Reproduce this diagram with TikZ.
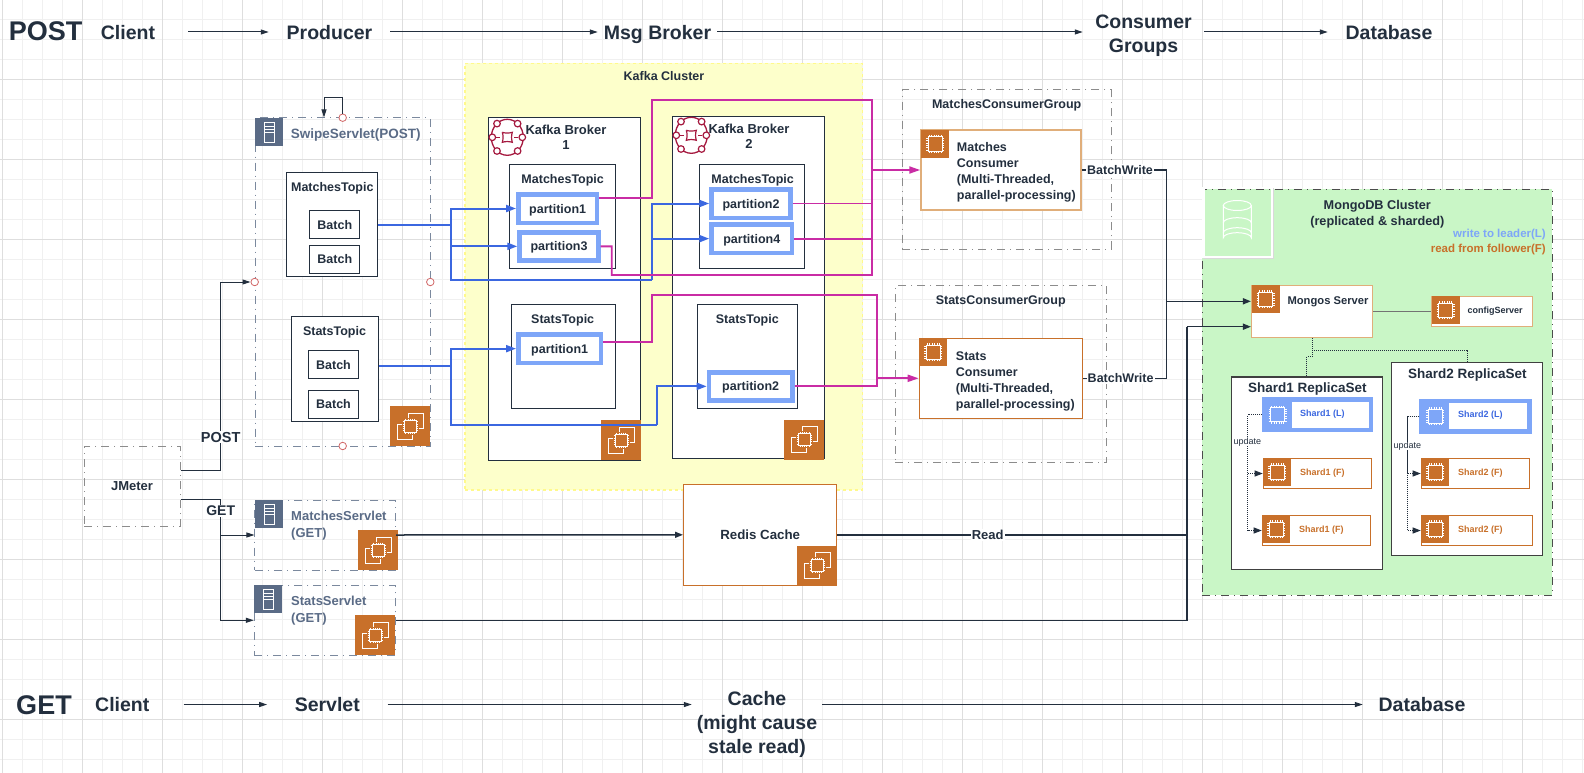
\documentclass[tikz,border=0pt]{standalone}
\usepackage{fontspec}
\setmainfont{Liberation Sans}
\usetikzlibrary{arrows.meta}

\definecolor{inkdark}{HTML}{232F3E}
\definecolor{awsorange}{HTML}{C8702A}
\definecolor{paleorange}{HTML}{E0AE7A}
\definecolor{leaderblue}{HTML}{7EA6F8}
\definecolor{slate}{HTML}{5A6B86}
\definecolor{linkblue}{HTML}{3B67E0}
\definecolor{linkpink}{HTML}{C92CA4}
\definecolor{kafkared}{HTML}{A5193F}
\definecolor{clusteryellow}{HTML}{FDFFCB}
\definecolor{clustergreen}{HTML}{C9F6C6}

\tikzset{
    pics/chipicon/.style={code={
        \fill[#1] (0,0) rectangle (28,28);
        \draw[white, line width=1pt] (7,7) rectangle (21,21);
        \foreach \t in {8,10.4,12.8,15.2,17.6,20} {
            \draw[white, line width=0.6pt] (\t,5) -- (\t,7) (\t,21) -- (\t,23) (5,\t) -- (7,\t) (21,\t) -- (23,\t);
        }
    }},
    pics/stackicon/.style={code={
        \fill[awsorange] (0,0) rectangle (40,40);
        \draw[white, line width=0.8pt] (18,7) rectangle (33,22);
        \draw[white, line width=0.8pt] (7,18) rectangle (22,33);
        \fill[awsorange] (11.5,11.5) rectangle (28.5,28.5);
        \draw[white, line width=1pt] (14,14) rectangle (26,26);
        \foreach \t in {15.5,18,20,22,24.5} {
            \draw[white, line width=0.6pt] (\t,12.5) -- (\t,14) (\t,26) -- (\t,27.5) (12.5,\t) -- (14,\t) (26,\t) -- (27.5,\t);
        }
    }},
    pics/servericon/.style={code={
        \fill[slate] (0,0) rectangle (28,28);
        \draw[white, line width=0.9pt] (9,4) rectangle (19.5,24);
        \draw[white, line width=0.7pt] (9,8) -- (19.5,8) (9,11) -- (19.5,11) (9,14.5) -- (19.5,14.5);
    }},
    pics/kafkaicon/.style={code={
        \draw[kafkared, line width=1.3pt] (0,0) ellipse (16 and 18);
        \foreach \sx/\sy in {-10.3/-13.7, 10.3/-13.7, -10.3/13.7, 10.3/13.7, -15/0, 15/0} {
            \draw[kafkared, line width=1.2pt, fill=white] (\sx,\sy) circle (3.3);
        }
        \draw[kafkared, line width=1.2pt, fill=white] (-5,-5) .. controls (-2,-4) and (2,-4) .. (5,-5) .. controls (4,-2) and (4,2) .. (5,5) .. controls (2,4) and (-2,4) .. (-5,5) .. controls (-4,2) and (-4,-2) .. (-5,-5);
        \draw[kafkared, line width=1pt] (-11,0) -- (-7,0) (7,0) -- (11,0);
    }},
}

\begin{document}
\begin{tikzpicture}[x=1pt, y=-1pt,
    >={Triangle[length=8pt,width=6pt]},
    every node/.style={text=inkdark, inner sep=0pt},
    wh/.style 2 args={minimum width=#1pt, minimum height=#2pt},
    % Background squares
    gridminor/.style={draw=black!6, line width=0.8pt},
    gridmajor/.style={draw=black!13, line width=0.8pt},
    % Boxes
    groupbox/.style={draw=black!45, line width=1pt, dash pattern=on 8pt off 5pt on 1pt off 5pt},
    servletbox/.style={groupbox, draw=slate!80},
    plainbox/.style={draw=inkdark, fill=white, line width=1pt},
    batchbox/.style={plainbox, wh={50}{28}, font=\fontsize{12.5}{15}\selectfont\bfseries},
    partbox/.style={draw=leaderblue, fill=white, line width=4.5pt, text height=11.7pt, text depth=2.7pt, font=\fontsize{12.5}{15}\selectfont\bfseries},
    hostbox/.style={draw=awsorange, fill=white, line width=1.2pt},
    palebox/.style={draw=paleorange, fill=white, line width=1.5pt},
    portdot/.style={circle, draw=red!70!black!60, fill=white, line width=0.8pt, minimum size=7.5pt},
    % Texts
    flowtext/.style={font=\fontsize{19.5}{24}\selectfont\bfseries, align=center},
    flowsingle/.style={flowtext, text height=18.8pt, text depth=4.5pt},
    titletext/.style={font=\fontsize{12.5}{15.5}\selectfont\bfseries, align=center, yshift=-1.5pt},
    hosttext/.style={anchor=west, align=left, font=\fontsize{12.5}{16}\selectfont\bfseries},
    servlettext/.style={anchor=west, align=left, text=slate, font=\fontsize{13}{17}\selectfont\bfseries},
    shardtext/.style={anchor=west, font=\fontsize{9}{11}\selectfont\bfseries},
    linklabel/.style={fill=white, inner sep=1pt, font=\fontsize{12.5}{15}\selectfont\bfseries},
    % Connectors
    flowlink/.style={draw=inkdark, line width=1pt, >={Triangle[length=8pt,width=5pt]}},
    darklink/.style={draw=inkdark, line width=1.5pt},
    bluelink/.style={draw=linkblue, line width=2pt, >={Triangle[length=10pt,width=7pt]}},
    pinklink/.style={draw=linkpink, line width=1.9pt, >={Triangle[length=11pt,width=7pt]}},
    dotlink/.style={draw=inkdark, line width=0.9pt, dash pattern=on 1pt off 1pt},
]
\useasboundingbox (0,0) rectangle (1584,773);
\fill[white] (0,0) rectangle (1584,773);

% 1. Background squares
\foreach \k in {0,...,79} {\draw[gridminor] (2.5+20*\k,0) -- (2.5+20*\k,773);}
\foreach \k in {0,...,38} {\draw[gridminor] (0,19.5+20*\k) -- (1584,19.5+20*\k);}
\foreach \k in {0,...,19} {\draw[gridmajor] (2.5+80*\k,0) -- (2.5+80*\k,773);}
\foreach \k in {0,...,8} {\draw[gridmajor] (0,79.5+80*\k) -- (1584,79.5+80*\k);}

% 2. The two flow rows
\node[font=\fontsize{27}{32}\selectfont\bfseries] (postTitle) at (45.7,31) {POST};
\node[flowsingle, wh={120}{30}] (postClient) at (128,32) {Client};
\node[flowsingle, wh={121}{30}] (postProducer) at (329.5,32) {Producer};
\node[flowsingle, wh={119}{30}] (postBroker) at (657.5,32) {Msg Broker};
\node[flowtext, wh={121}{50}] (postConsumer) at (1143.5,35.5) {Consumer\\Groups};
\node[flowsingle, wh={122}{30}] (postDatabase) at (1389,32) {Database};
\draw[flowlink, ->] (postClient) -- (postProducer);
\draw[flowlink, ->] (postProducer) -- (postBroker);
\draw[flowlink, ->] (postBroker.east) -- (postConsumer.west |- postBroker.east);
\draw[flowlink, ->] (postConsumer.east |- postDatabase.west) -- (postDatabase.west);

\node[font=\fontsize{27}{32}\selectfont\bfseries] (getTitle) at (44,705) {GET};
\node[flowsingle, wh={122}{30}] (getClient) at (122.3,704.5) {Client};
\node[flowsingle, wh={120}{30}] (getServlet) at (327.3,704.5) {Servlet};
\node[flowtext, wh={130}{72}] (getCache) at (757,724) {Cache\\(might cause\\stale read)};
\node[flowsingle, wh={118}{30}] (getDatabase) at (1422,704.5) {Database};
\draw[flowlink, ->] (getClient) -- (getServlet);
\draw[flowlink, ->] (getServlet.east) -- (getCache.west |- getServlet.east);
\draw[flowlink, ->] (getCache.east |- getDatabase.west) -- (getDatabase.west);

% 3. JMeter and the servlets
\node[groupbox, wh={96}{80}, font=\fontsize{13}{16}\selectfont\bfseries] (jmeter) at (132,486) {JMeter};

\node[servletbox, wh={174.7}{328}] (swipeServlet) at (342.7,282) {};
\pic at (255.3,118) {servericon};
\node[servlettext, font=\fontsize{13.5}{17}\selectfont\bfseries] (swipeTitle) at (290.7,135.5) {SwipeServlet(POST)};
\node[plainbox, wh={90.7}{104}] (swipeMatches) at (332.3,224.7) {};
\node[titletext] (swipeMatchesTitle) at (332.3,186.5) {MatchesTopic};
\node[plainbox, wh={87.4}{104.3}] (swipeStats) at (335,368.85) {};
\node[titletext] (swipeStatsTitle) at (334.5,330.5) {StatsTopic};
\foreach \name/\cx/\cy in {batchM1/334.8/224.7, batchM2/334.8/259.2, batchS1/333.5/364.7, batchS2/333.5/404.5} {
    \node[batchbox] (\name) at (\cx,\cy) {Batch};
}
\pic at (390,406) {stackicon};

\node[servletbox, wh={140.7}{70}] (matchesServlet) at (325.3,535) {};
\pic at (255,500) {servericon};
\node[servlettext] (matchesServletText) at (291,526) {MatchesServlet\\(GET)};
\pic at (358,530) {stackicon};

\node[servletbox, wh={141}{70}] (statsServlet) at (324.8,620.3) {};
\pic at (254.3,585.3) {servericon};
\node[servlettext] (statsServletText) at (291,611) {StatsServlet\\(GET)};
\pic at (355,615.3) {stackicon};

% 4. Kafka cluster
\node[draw=yellow!45, fill=clusteryellow, dashed, line width=1.5pt, wh={397.3}{426.7}] (kafkaCluster) at (663.7,276.7) {};
\node[titletext] (kafkaTitle) at (664,74.5) {Kafka Cluster};

\node[plainbox, wh={152.4}{342}] (broker1) at (564.5,289) {};
\pic at (507.3,137.3) {kafkaicon};
\node[titletext, font=\fontsize{13}{15.5}\selectfont\bfseries] (broker1Title) at (566,136) {Kafka Broker\\1};
\node[plainbox, wh={105.7}{104.4}] (b1Matches) at (562.2,216.5) {};
\node[titletext] (b1MatchesTitle) at (562.7,178.3) {MatchesTopic};
\node[partbox, wh={78.8}{28.5}] (b1Part1) at (557.7,208.5) {partition1};
\node[partbox, wh={78.9}{28.2}] (b1Part3) at (559,246.35) {partition3};
\node[plainbox, wh={104}{104.4}] (b1Stats) at (563,356.5) {};
\node[titletext] (b1StatsTitle) at (562.7,318.3) {StatsTopic};
\node[partbox, wh={82.8}{28.2}] (b1StatsPart) at (559.7,348.65) {partition1};
\pic at (601,420) {stackicon};

\node[plainbox, wh={152.3}{341.6}] (broker2) at (748.2,287.5) {};
\pic at (691.3,135.3) {kafkaicon};
\node[titletext, font=\fontsize{13}{15.5}\selectfont\bfseries] (broker2Title) at (749,135) {Kafka Broker\\2};
\node[plainbox, wh={105.4}{104.4}] (b2Matches) at (752,216.5) {};
\node[titletext] (b2MatchesTitle) at (752.7,178.3) {MatchesTopic};
\node[partbox, wh={78.9}{28.5}] (b2Part2) at (751,203.5) {partition2};
\node[partbox, wh={80.5}{28.2}] (b2Part4) at (751.8,238.65) {partition4};
\node[plainbox, wh={100.4}{104.4}] (b2Stats) at (747.5,356.5) {};
\node[titletext] (b2StatsTitle) at (747.3,318.3) {StatsTopic};
\node[partbox, wh={83.5}{28.2}] (b2StatsPart) at (750.7,386.35) {partition2};
\pic at (784.3,419.5) {stackicon};

% 5. Consumer groups
\node[groupbox, wh={209}{159.3}] (matchesGroup) at (1006.5,169.65) {};
\node[titletext] (matchesGroupTitle) at (1006.7,104) {MatchesConsumerGroup};
\node[palebox, wh={160}{80}] (matchesConsumer) at (1001,170) {};
\pic at (921,130) {chipicon=awsorange};
\node[hosttext, font=\fontsize{12.5}{15.9}\selectfont\bfseries] (matchesConsumerText) at (956.7,172) {Matches\\Consumer\\(Multi-Threaded,\\parallel-processing)};

\node[groupbox, wh={211.4}{177}] (statsGroup) at (1001,374.2) {};
\node[titletext] (statsGroupTitle) at (1000.7,300) {StatsConsumerGroup};
\node[hostbox, wh={163}{80}] (statsConsumer) at (1000.8,378.3) {};
\pic at (919.3,338.3) {chipicon=awsorange};
\node[hosttext] (statsConsumerText) at (955.7,381.5) {Stats\\Consumer\\(Multi-Threaded,\\parallel-processing)};

% 6. Redis
\node[hostbox, wh={153.2}{101}, font=\fontsize{13.3}{16}\selectfont\bfseries] (redisCache) at (760.2,534.8) {Redis Cache};
\pic at (797,545.5) {stackicon};

% 7. MongoDB cluster
\node[draw=black!70, fill=clustergreen, line width=1pt, dash pattern=on 8pt off 5pt on 1pt off 5pt, wh={350.3}{406}] (mongoCluster) at (1377.15,392.3) {};
\draw[black!15, line width=1pt] (1203,258.3) -- (1273.7,258.3) -- (1273.7,187.7);
\draw[white, line width=2.6pt] (1203.3,188) rectangle (1272,257);
\foreach \ly in {222.7,232.7} {
    \draw[white, line width=1pt] (1223.3,\ly) arc (180:0:14 and -5);
}
\draw[white, line width=1pt] (1237.3,205.5) ellipse (14 and 5);
\draw[white, line width=1pt] (1223.3,205.5) -- (1223.3,237.7) arc (180:0:14 and -5) -- (1251.3,205.5);
\node[titletext, font=\fontsize{12.7}{15.7}\selectfont\bfseries] (mongoTitle) at (1377.3,212.5) {MongoDB Cluster\\(replicated \& sharded)};
\node[anchor=east, text=leaderblue, font=\fontsize{11.5}{14}\selectfont\bfseries] (writeNote) at (1546,235) {write to leader(L)};
\node[anchor=east, text=awsorange, font=\fontsize{11.5}{14}\selectfont\bfseries] (readNote) at (1546,249.3) {read from follower(F)};

\node[palebox, wh={120.6}{52}] (mongos) at (1312,311.3) {};
\pic at (1251.7,285.3) {chipicon=awsorange};
\node[font=\fontsize{11.2}{14}\selectfont\bfseries] (mongosText) at (1328,302) {Mongos Server};
\node[palebox, wh={100.6}{30.4}] (configServer) at (1482,311.5) {};
\pic at (1431.7,296.3) {chipicon=awsorange};
\node[shardtext, anchor=center] (configText) at (1495,310.7) {configServer};

\node[draw=black!75, fill=white, line width=1.2pt, wh={150.6}{192.3}] (shard1Set) at (1307,473.15) {};
\node[titletext, font=\fontsize{13.5}{16}\selectfont\bfseries] (shard1Title) at (1307.3,387.8) {Shard1 ReplicaSet};
\node[draw=black!75, fill=white, line width=1.2pt, wh={150.6}{192.6}] (shard2Set) at (1467,459) {};
\node[titletext, font=\fontsize{13.5}{16}\selectfont\bfseries] (shard2Title) at (1467.3,373.8) {Shard2 ReplicaSet};

\node[partbox, wh={107}{30.5}] (shard1L) at (1317.5,414.8) {};
\pic at (1263.7,400.8) {chipicon=leaderblue};
\node[shardtext, text=linkblue] (shard1LText) at (1300,413.7) {Shard1 (L)};
\node[partbox, wh={107.9}{30.5}] (shard2L) at (1475.5,416.2) {};
\pic at (1421.3,402.2) {chipicon=leaderblue};
\node[shardtext, text=linkblue] (shard2LText) at (1458,415.3) {Shard2 (L)};
\foreach \name/\cx/\cy/\w/\ix/\tx/\lab in {
    shard1F1/1317.5/473.5/108.4/1263.3/1300/Shard1 (F),
    shard1F2/1316.5/530.5/108.4/1262.3/1299/Shard1 (F),
    shard2F1/1475.5/473.5/108.4/1421.3/1458/Shard2 (F),
    shard2F2/1476.8/530.5/111/1421.3/1458/Shard2 (F)} {
    \node[hostbox, wh={\w}{30.4}] (\name) at (\cx,\cy) {};
    \pic at (\ix,\cy-15.2) {chipicon=awsorange};
    \node[shardtext, text=awsorange] (\name Text) at (\tx,\cy-0.8) {\lab};
}

% 8. Producer loop and JMeter links
\node[portdot] (swipePortTop) at (342.7,117.7) {};
\node[portdot] (swipePortLeft) at (254.7,282) {};
\node[portdot] (swipePortRight) at (430.3,282) {};
\node[portdot] (swipePortBottom) at (342.7,446) {};
\coordinate (swipeLoop) at (324,97.3);
\coordinate (jmPost) at (220.7,470.3);
\coordinate (jmGet) at (220.7,499.7);
\draw[flowlink, ->] (swipePortTop.north) |- (swipeLoop) -- (swipeLoop |- swipeServlet.north);
\draw[flowlink, ->] (jmeter.east |- jmPost) -- (jmPost) -- node[linklabel, pos=0.176, font=\fontsize{14.5}{17}\selectfont\bfseries] (postLabel) {POST} (jmPost |- swipePortLeft.west) -- (swipePortLeft.west);
\draw[flowlink, ->] (jmGet) |- (statsServlet.west);
\draw[flowlink, ->] (jmeter.east |- jmGet) -- (jmGet) -- node[linklabel, pos=0.31, font=\fontsize{14}{17}\selectfont\bfseries] (getLabel) {GET} (jmGet |- matchesServlet.west) -- (matchesServlet.west);

% 9. Producer to partitions
\coordinate (blueM1) at (450.7,224.7);
\coordinate (blueM2) at (652,280);
\coordinate (blueS1) at (450.7,366);
\coordinate (blueS2) at (657,425);
\draw[bluelink] (swipeMatches.east) -- (blueM1);
\draw[bluelink, ->] (blueM1) |- (b1Part1.west);
\draw[bluelink, ->] (blueM1) |- (b1Part3.west);
\draw[bluelink] (blueM1) |- (blueM2);
\draw[bluelink, ->] (blueM2) |- (b2Part2.west);
\draw[bluelink, ->] (blueM2) |- (b2Part4.west);
\draw[bluelink] (swipeStats.east |- blueS1) -- (blueS1);
\draw[bluelink, ->] (blueS1) |- (b1StatsPart.west);
\draw[bluelink] (blueS1) |- (blueS2);
\draw[bluelink, ->] (blueS2) |- (b2StatsPart.west);

% 10. Partitions to consumers
\coordinate (pinkOut1) at (652,198);
\coordinate (pinkTop1) at (872,100);
\coordinate (pinkJoin1) at (872,170);
\coordinate (pinkOut3) at (611.7,246.3);
\coordinate (pinkLow1) at (872,275);
\coordinate (pinkOut2) at (651.7,342);
\coordinate (pinkTop2) at (877,295.3);
\coordinate (pinkJoin2) at (877,378.3);
\draw[pinklink] (b1Part1.east |- pinkOut1) -- (pinkOut1) |- (pinkTop1) -- (pinkJoin1);
\draw[pinklink] (b1Part3.east) -- (pinkOut3) |- (pinkLow1) -- (pinkJoin1);
\draw[pinklink] (b2Part2.east) -- (b2Part2.east -| pinkJoin1);
\draw[pinklink] (b2Part4.east) -- (b2Part4.east -| pinkJoin1);
\draw[pinklink, ->] (pinkJoin1) -- (matchesConsumer.west);
\draw[pinklink] (b1StatsPart.east |- pinkOut2) -- (pinkOut2) |- (pinkTop2) -- (pinkJoin2);
\draw[pinklink] (b2StatsPart.east) -- (b2StatsPart.east -| pinkJoin2) -- (pinkJoin2);
\draw[pinklink, ->] (pinkJoin2) -- (statsConsumer.west);

% 11. Writes and reads at the database
\coordinate (writeBus1) at (1166.7,170);
\coordinate (writeBus2) at (1166.7,378.3);
\coordinate (writeJoin) at (1166.7,301.3);
\coordinate (readBus1) at (1186.8,534.8);
\coordinate (readBus2) at (1186.8,620.3);
\coordinate (readJoin) at (1186.8,326.7);
\draw[darklink] (matchesConsumer.east) -- node[linklabel, pos=0.45] (writeLabel1) {BatchWrite} (writeBus1) -- (writeJoin);
\draw[darklink] (statsConsumer.east) -- node[linklabel, pos=0.45] (writeLabel2) {BatchWrite} (writeBus2) -- (writeJoin);
\draw[darklink, ->] (writeJoin) -- (mongos.west |- writeJoin);
\draw[darklink, ->] (matchesServlet.east) -- (redisCache.west);
\draw[darklink] (redisCache.east) -- node[linklabel, pos=0.43, font=\fontsize{13}{16}\selectfont\bfseries] (readLabel) {Read} (readBus1);
\draw[darklink] (statsServlet.east) -- (readBus2) -- (readJoin);
\draw[darklink, ->] (readJoin) -- (mongos.west |- readJoin);
\draw[draw=black!55, line width=0.9pt] (mongos.east |- configServer.west) -- (configServer.west);

% 12. Shard links
\coordinate (shardBus) at (1312,350);
\coordinate (shardStep) at (1306.7,356.7);
\coordinate (update1) at (1247.7,414.8);
\coordinate (update2) at (1407,416.2);
\draw[dotlink] (mongos.south) -- (shardBus) -| (shard2Set.north);
\draw[dotlink] (shardBus) |- (shardStep) -- (shardStep |- shard1Set.north);
\draw[dotlink] (shard1L.west) -- (update1);
\draw[dotlink, <-] (shard1F1.west) -| (update1);
\draw[dotlink, <-] (shard1F2.west) -| (update1);
\draw[dotlink] (shard2L.west) -- (update2);
\draw[dotlink, <-] (shard2F1.west) -| (update2);
\draw[dotlink, <-] (shard2F2.west) -| (update2);
\node[fill=white, font=\fontsize{9}{11}\selectfont] (updateLabel1) at (1247.3,441.7) {update};
\node[fill=white, font=\fontsize{9}{11}\selectfont] (updateLabel2) at (1407.3,445.7) {update};

\end{tikzpicture}
\end{document}
